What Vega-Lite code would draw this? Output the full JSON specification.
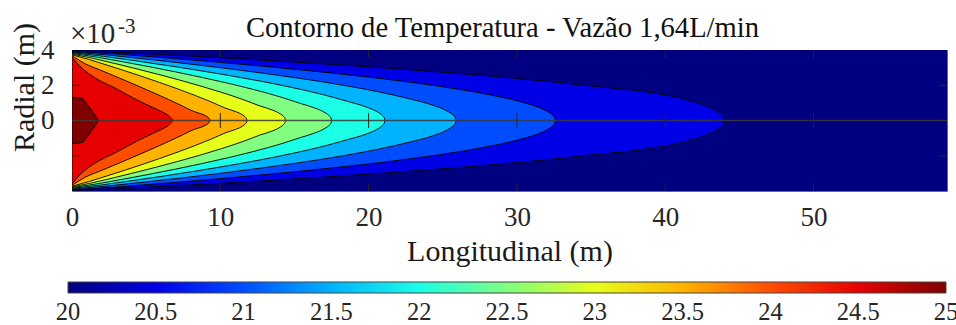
{
  "$schema": "https://vega.github.io/schema/vega-lite/v6.json",
  "autosize": {"type": "none"},
  "padding": {"left": 72, "top": 50, "right": 9, "bottom": 134},
  "width": 875,
  "height": 141,
  "background": "white",
  "config": {
    "font": "Liberation Serif",
    "axis": {"labelFont": "Liberation Serif", "titleFont": "Liberation Serif"},
    "legend": {"labelFont": "Liberation Serif"},
    "text": {"font": "Liberation Serif"},
    "style": {
      "guide-label": {"font": "Liberation Serif"},
      "guide-title": {"font": "Liberation Serif"}
    },
    "view": {"stroke": "#6a6a6a", "strokeWidth": 1}
  },
  "datasets": {
    "bg": [
      {"level": 20, "x": 0, "r": 4, "rn": -4},
      {"level": 20, "x": 59, "r": 4, "rn": -4}
    ],
    "cont": [
      {"level": 20.5, "x": 0, "r": 3.97, "rn": -3.97},
      {"level": 20.5, "x": 4.4, "r": 3.815, "rn": -3.815},
      {"level": 20.5, "x": 8.8, "r": 3.618, "rn": -3.618},
      {"level": 20.5, "x": 13.2, "r": 3.407, "rn": -3.407},
      {"level": 20.5, "x": 17.6, "r": 3.179, "rn": -3.179},
      {"level": 20.5, "x": 22, "r": 2.928, "rn": -2.928},
      {"level": 20.5, "x": 26.4, "r": 2.648, "rn": -2.648},
      {"level": 20.5, "x": 30.8, "r": 2.327, "rn": -2.327},
      {"level": 20.5, "x": 35.2, "r": 1.939, "rn": -1.939},
      {"level": 20.5, "x": 38.72, "r": 1.62, "rn": -1.62},
      {"level": 20.5, "x": 41.36, "r": 1.2, "rn": -1.2},
      {"level": 20.5, "x": 42.9, "r": 0.78, "rn": -0.78},
      {"level": 20.5, "x": 43.63, "r": 0.45, "rn": -0.45},
      {"level": 20.5, "x": 43.9, "r": 0.23, "rn": -0.23},
      {"level": 20.5, "x": 44, "r": 0, "rn": 0},

      {"level": 21, "x": 0, "r": 3.93, "rn": -3.93},
      {"level": 21, "x": 3.26, "r": 3.757, "rn": -3.757},
      {"level": 21, "x": 6.52, "r": 3.542, "rn": -3.542},
      {"level": 21, "x": 9.78, "r": 3.313, "rn": -3.313},
      {"level": 21, "x": 13.04, "r": 3.067, "rn": -3.067},
      {"level": 21, "x": 16.3, "r": 2.8, "rn": -2.8},
      {"level": 21, "x": 19.56, "r": 2.505, "rn": -2.505},
      {"level": 21, "x": 22.82, "r": 2.169, "rn": -2.169},
      {"level": 21, "x": 26.08, "r": 1.771, "rn": -1.771},
      {"level": 21, "x": 28.69, "r": 1.372, "rn": -1.372},
      {"level": 21, "x": 30.64, "r": 0.97, "rn": -0.97},
      {"level": 21, "x": 31.79, "r": 0.626, "rn": -0.626},
      {"level": 21, "x": 32.355, "r": 0.344, "rn": -0.344},
      {"level": 21, "x": 32.536, "r": 0.175, "rn": -0.175},
      {"level": 21, "x": 32.6, "r": 0, "rn": 0},

      {"level": 21.5, "x": 0, "r": 3.89, "rn": -3.89},
      {"level": 21.5, "x": 2.59, "r": 3.699, "rn": -3.699},
      {"level": 21.5, "x": 5.18, "r": 3.467, "rn": -3.467},
      {"level": 21.5, "x": 7.77, "r": 3.222, "rn": -3.222},
      {"level": 21.5, "x": 10.36, "r": 2.96, "rn": -2.96},
      {"level": 21.5, "x": 12.95, "r": 2.677, "rn": -2.677},
      {"level": 21.5, "x": 15.54, "r": 2.368, "rn": -2.368},
      {"level": 21.5, "x": 18.13, "r": 2.022, "rn": -2.022},
      {"level": 21.5, "x": 20.72, "r": 1.617, "rn": -1.617},
      {"level": 21.5, "x": 22.79, "r": 1.221, "rn": -1.221},
      {"level": 21.5, "x": 24.35, "r": 0.863, "rn": -0.863},
      {"level": 21.5, "x": 25.25, "r": 0.557, "rn": -0.557},
      {"level": 21.5, "x": 25.7, "r": 0.306, "rn": -0.306},
      {"level": 21.5, "x": 25.85, "r": 0.156, "rn": -0.156},
      {"level": 21.5, "x": 25.9, "r": 0, "rn": 0},

      {"level": 22, "x": 0, "r": 3.85, "rn": -3.85},
      {"level": 22, "x": 2.11, "r": 3.642, "rn": -3.642},
      {"level": 22, "x": 4.22, "r": 3.394, "rn": -3.394},
      {"level": 22, "x": 6.33, "r": 3.132, "rn": -3.132},
      {"level": 22, "x": 8.44, "r": 2.856, "rn": -2.856},
      {"level": 22, "x": 10.55, "r": 2.56, "rn": -2.56},
      {"level": 22, "x": 12.66, "r": 2.239, "rn": -2.239},
      {"level": 22, "x": 14.77, "r": 1.884, "rn": -1.884},
      {"level": 22, "x": 16.88, "r": 1.477, "rn": -1.477},
      {"level": 22, "x": 18.57, "r": 1.087, "rn": -1.087},
      {"level": 22, "x": 19.83, "r": 0.769, "rn": -0.769},
      {"level": 22, "x": 20.57, "r": 0.496, "rn": -0.496},
      {"level": 22, "x": 20.94, "r": 0.273, "rn": -0.273},
      {"level": 22, "x": 21.06, "r": 0.139, "rn": -0.139},
      {"level": 22, "x": 21.1, "r": 0, "rn": 0},

      {"level": 22.5, "x": 0, "r": 3.81, "rn": -3.81},
      {"level": 22.5, "x": 1.75, "r": 3.586, "rn": -3.586},
      {"level": 22.5, "x": 3.5, "r": 3.322, "rn": -3.322},
      {"level": 22.5, "x": 5.25, "r": 3.046, "rn": -3.046},
      {"level": 22.5, "x": 7, "r": 2.755, "rn": -2.755},
      {"level": 22.5, "x": 8.75, "r": 2.447, "rn": -2.447},
      {"level": 22.5, "x": 10.5, "r": 2.117, "rn": -2.117},
      {"level": 22.5, "x": 12.25, "r": 1.756, "rn": -1.756},
      {"level": 22.5, "x": 14, "r": 1.349, "rn": -1.349},
      {"level": 22.5, "x": 15.4, "r": 0.968, "rn": -0.968},
      {"level": 22.5, "x": 16.45, "r": 0.684, "rn": -0.684},
      {"level": 22.5, "x": 17.06, "r": 0.442, "rn": -0.442},
      {"level": 22.5, "x": 17.37, "r": 0.243, "rn": -0.243},
      {"level": 22.5, "x": 17.47, "r": 0.124, "rn": -0.124},
      {"level": 22.5, "x": 17.5, "r": 0, "rn": 0},

      {"level": 23, "x": 0, "r": 3.77, "rn": -3.77},
      {"level": 23, "x": 1.44, "r": 3.522, "rn": -3.522},
      {"level": 23, "x": 2.88, "r": 3.236, "rn": -3.236},
      {"level": 23, "x": 4.32, "r": 2.939, "rn": -2.939},
      {"level": 23, "x": 5.76, "r": 2.631, "rn": -2.631},
      {"level": 23, "x": 7.2, "r": 2.307, "rn": -2.307},
      {"level": 23, "x": 8.64, "r": 1.965, "rn": -1.965},
      {"level": 23, "x": 10.08, "r": 1.597, "rn": -1.597},
      {"level": 23, "x": 11.52, "r": 1.193, "rn": -1.193},
      {"level": 23, "x": 12.67, "r": 0.826, "rn": -0.826},
      {"level": 23, "x": 13.54, "r": 0.584, "rn": -0.584},
      {"level": 23, "x": 14.04, "r": 0.377, "rn": -0.377},
      {"level": 23, "x": 14.29, "r": 0.207, "rn": -0.207},
      {"level": 23, "x": 14.37, "r": 0.106, "rn": -0.106},
      {"level": 23, "x": 14.4, "r": 0, "rn": 0},

      {"level": 23.5, "x": 0, "r": 3.73, "rn": -3.73},
      {"level": 23.5, "x": 1.18, "r": 3.456, "rn": -3.456},
      {"level": 23.5, "x": 2.36, "r": 3.145, "rn": -3.145},
      {"level": 23.5, "x": 3.54, "r": 2.827, "rn": -2.827},
      {"level": 23.5, "x": 4.72, "r": 2.499, "rn": -2.499},
      {"level": 23.5, "x": 5.9, "r": 2.159, "rn": -2.159},
      {"level": 23.5, "x": 7.08, "r": 1.806, "rn": -1.806},
      {"level": 23.5, "x": 8.26, "r": 1.435, "rn": -1.435},
      {"level": 23.5, "x": 9.44, "r": 1.037, "rn": -1.037},
      {"level": 23.5, "x": 10.38, "r": 0.69, "rn": -0.69},
      {"level": 23.5, "x": 11.09, "r": 0.488, "rn": -0.488},
      {"level": 23.5, "x": 11.51, "r": 0.315, "rn": -0.315},
      {"level": 23.5, "x": 11.71, "r": 0.173, "rn": -0.173},
      {"level": 23.5, "x": 11.78, "r": 0.088, "rn": -0.088},
      {"level": 23.5, "x": 11.8, "r": 0, "rn": 0},

      {"level": 24, "x": 0, "r": 3.68, "rn": -3.68},
      {"level": 24, "x": 0.93, "r": 3.201, "rn": -3.201},
      {"level": 24, "x": 1.86, "r": 2.88, "rn": -2.88},
      {"level": 24, "x": 2.79, "r": 2.553, "rn": -2.553},
      {"level": 24, "x": 3.72, "r": 2.223, "rn": -2.223},
      {"level": 24, "x": 4.65, "r": 1.886, "rn": -1.886},
      {"level": 24, "x": 5.58, "r": 1.543, "rn": -1.543},
      {"level": 24, "x": 6.51, "r": 1.192, "rn": -1.192},
      {"level": 24, "x": 7.44, "r": 0.827, "rn": -0.827},
      {"level": 24, "x": 8.18, "r": 0.522, "rn": -0.522},
      {"level": 24, "x": 8.74, "r": 0.369, "rn": -0.369},
      {"level": 24, "x": 9.07, "r": 0.238, "rn": -0.238},
      {"level": 24, "x": 9.23, "r": 0.131, "rn": -0.131},
      {"level": 24, "x": 9.28, "r": 0.067, "rn": -0.067},
      {"level": 24, "x": 9.3, "r": 0, "rn": 0},

      {"level": 24.5, "x": 0, "r": 3.6, "rn": -3.6},
      {"level": 24.5, "x": 0.3, "r": 3.3, "rn": -3.3},
      {"level": 24.5, "x": 0.7, "r": 2.95, "rn": -2.95},
      {"level": 24.5, "x": 1.5, "r": 2.45, "rn": -2.45},
      {"level": 24.5, "x": 3, "r": 1.8, "rn": -1.8},
      {"level": 24.5, "x": 4.5, "r": 1.12, "rn": -1.12},
      {"level": 24.5, "x": 5.5, "r": 0.72, "rn": -0.72},
      {"level": 24.5, "x": 6, "r": 0.52, "rn": -0.52},
      {"level": 24.5, "x": 6.4, "r": 0.34, "rn": -0.34},
      {"level": 24.5, "x": 6.65, "r": 0.18, "rn": -0.18},
      {"level": 24.5, "x": 6.8, "r": 0, "rn": 0}
    ],
    "core": [
      {"level": 25, "x": 0, "r": 1.3, "rn": -1.3},
      {"level": 25, "x": 0.5, "r": 1.27, "rn": -1.27},
      {"level": 25, "x": 0.75, "r": 1.22, "rn": -1.22},
      {"level": 25, "x": 1.1, "r": 0.85, "rn": -0.85},
      {"level": 25, "x": 1.45, "r": 0.42, "rn": -0.42},
      {"level": 25, "x": 1.8, "r": 0, "rn": 0}
    ],
    "xt": [{"x": 10}, {"x": 20}, {"x": 30}, {"x": 40}, {"x": 50}],
    "yt": [{"r": -2}, {"r": 2}],
    "labels": [
      {"name": "title", "text": "Contorno de Temperatura - Vazão 1,64L/min"},
      {"name": "mult", "text": "×10"},
      {"name": "exp", "text": "-3"}
    ],
    "one": [{}]
  },
  "layer": [
    {
      "data": {"name": "bg"},
      "mark": {"type": "area", "orient": "vertical", "opacity": 1, "clip": true},
      "encoding": {
        "x": {
          "field": "x", "type": "quantitative", "title": "Longitudinal (m)",
          "scale": {"domain": [0, 59], "nice": false, "zero": false},
          "axis": {
            "title": "Longitudinal (m)", "values": [0, 10, 20, 30, 40, 50],
            "ticks": false, "tickSize": 0, "domain": false, "grid": false,
            "labelFlush": false, "labelFont": "Liberation Serif", "labelFontSize": 27,
            "labelColor": "#262626", "labelPadding": 13,
            "titleFont": "Liberation Serif", "titleFontSize": 30, "titleFontWeight": "normal",
            "titleColor": "#1a1a1a", "titleBaseline": "alphabetic", "titleY": 69
          }
        },
        "y": {
          "field": "r", "type": "quantitative", "title": "Radial (m)", "stack": null,
          "scale": {"domain": [-4, 4], "nice": false, "zero": false},
          "axis": {
            "title": "Radial (m)", "values": [0, 2, 4],
            "ticks": false, "tickSize": 0, "domain": false, "grid": false,
            "labelFont": "Liberation Serif", "labelFontSize": 27, "labelColor": "#262626",
            "labelPadding": 18, "labelBaseline": "middle",
            "titleFont": "Liberation Serif", "titleFontSize": 30, "titleFontWeight": "normal",
            "titleColor": "#1a1a1a", "titleAngle": -90, "titleBaseline": "alphabetic",
            "titleAlign": "center", "titleX": -39, "titleY": 37
          }
        },
        "y2": {"field": "rn"},
        "color": {
          "field": "level", "type": "quantitative",
          "scale": {
            "domain": [20, 20.625, 21.875, 23.125, 24.375, 25],
            "range": ["#000080", "#0000ff", "#00ffff", "#ffff00", "#ff0000", "#800000"],
            "interpolate": "rgb"
          },
          "legend": {
            "orient": "none", "direction": "horizontal", "legendX": -4, "legendY": 232,
            "title": null, "padding": 0,
            "gradientLength": 878, "gradientThickness": 11,
            "gradientStrokeColor": "#444444", "gradientStrokeWidth": 1,
            "values": [20.0001, 20.5, 21, 21.5, 22, 22.5, 23, 23.5, 24, 24.5, 24.9999],
            "format": ".3~g", "labelOverlap": false,
            "labelFont": "Liberation Serif", "labelFontSize": 24.5, "labelColor": "#262626",
            "labelOffset": 7.5
          }
        }
      }
    },
    {
      "data": {"name": "cont"},
      "mark": {"type": "area", "orient": "vertical", "interpolate": "monotone", "opacity": 1,
               "stroke": "black", "strokeWidth": 0.9, "clip": true},
      "encoding": {
        "x": {"field": "x", "type": "quantitative", "title": "Longitudinal (m)"},
        "y": {"field": "r", "type": "quantitative", "title": "Radial (m)", "stack": null},
        "y2": {"field": "rn"},
        "color": {"field": "level", "type": "quantitative"}
      }
    },
    {
      "data": {"name": "core"},
      "mark": {"type": "area", "orient": "vertical", "interpolate": "linear", "opacity": 1,
               "stroke": "black", "strokeWidth": 0.9, "clip": true},
      "encoding": {
        "x": {"field": "x", "type": "quantitative", "title": "Longitudinal (m)"},
        "y": {"field": "r", "type": "quantitative", "title": "Radial (m)", "stack": null},
        "y2": {"field": "rn"},
        "color": {"field": "level", "type": "quantitative"}
      }
    },
    {
      "data": {"name": "one"},
      "mark": {"type": "rule", "color": "#3a3a3a", "strokeWidth": 1.6, "opacity": 0.85},
      "encoding": {"y": {"datum": 0}}
    },
    {
      "data": {"name": "xt"},
      "mark": {"type": "tick", "orient": "vertical", "size": 16, "thickness": 1, "color": "#262626", "opacity": 1, "clip": true},
      "encoding": {"x": {"field": "x", "type": "quantitative", "title": "Longitudinal (m)"}, "y": {"datum": 4}}
    },
    {
      "data": {"name": "xt"},
      "mark": {"type": "tick", "orient": "vertical", "size": 16, "thickness": 1, "color": "#262626", "opacity": 1, "clip": true},
      "encoding": {"x": {"field": "x", "type": "quantitative", "title": "Longitudinal (m)"}, "y": {"datum": -4}}
    },
    {
      "data": {"name": "xt"},
      "mark": {"type": "tick", "orient": "vertical", "size": 15, "thickness": 1, "color": "#262626", "opacity": 1, "clip": true},
      "encoding": {"x": {"field": "x", "type": "quantitative", "title": "Longitudinal (m)"}, "y": {"datum": 0}}
    },
    {
      "data": {"name": "yt"},
      "mark": {"type": "tick", "orient": "horizontal", "size": 16, "thickness": 1, "color": "#262626", "opacity": 1, "clip": true},
      "encoding": {"y": {"field": "r", "type": "quantitative", "title": "Radial (m)"}, "x": {"datum": 0}}
    },
    {
      "data": {"name": "yt"},
      "mark": {"type": "tick", "orient": "horizontal", "size": 16, "thickness": 1, "color": "#262626", "opacity": 1, "clip": true},
      "encoding": {"y": {"field": "r", "type": "quantitative", "title": "Radial (m)"}, "x": {"datum": 59}}
    },
    {
      "data": {"name": "labels"},
      "transform": [{"filter": "datum.name === 'title'"}],
      "mark": {"type": "text", "align": "center", "baseline": "alphabetic",
               "dx": -7, "dy": -13, "fontSize": 28.6, "font": "Liberation Serif", "color": "#111111"},
      "encoding": {"text": {"field": "text"}, "x": {"datum": 29.5}, "y": {"datum": 4}}
    },
    {
      "data": {"name": "labels"},
      "transform": [{"filter": "datum.name === 'mult'"}],
      "mark": {"type": "text", "align": "left", "baseline": "alphabetic",
               "dx": -2, "dy": -7, "fontSize": 29, "font": "Liberation Serif", "color": "#262626"},
      "encoding": {"text": {"field": "text"}, "x": {"datum": 0}, "y": {"datum": 4}}
    },
    {
      "data": {"name": "labels"},
      "transform": [{"filter": "datum.name === 'exp'"}],
      "mark": {"type": "text", "align": "left", "baseline": "alphabetic",
               "dx": 46, "dy": -17, "fontSize": 21, "font": "Liberation Serif", "color": "#262626"},
      "encoding": {"text": {"field": "text"}, "x": {"datum": 0}, "y": {"datum": 4}}
    }
  ]
}
